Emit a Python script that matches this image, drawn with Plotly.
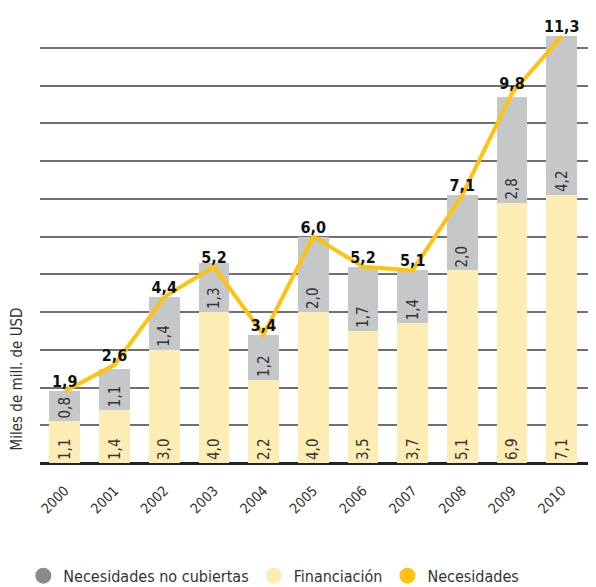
import plotly.graph_objects as go

# Data (miles de mill. de USD)
years = ["2000", "2001", "2002", "2003", "2004", "2005",
         "2006", "2007", "2008", "2009", "2010"]
financiacion = [1.1, 1.4, 3.0, 4.0, 2.2, 4.0, 3.5, 3.7, 5.1, 6.9, 7.1]
no_cubiertas = [0.8, 1.1, 1.4, 1.3, 1.2, 2.0, 1.7, 1.4, 2.0, 2.8, 4.2]
necesidades = [1.9, 2.6, 4.4, 5.2, 3.4, 6.0, 5.2, 5.1, 7.1, 9.8, 11.3]


def fmt(v):
    return f"{v:.1f}".replace(".", ",")


FONT = "DejaVu Sans Condensed, Roboto, sans-serif"
GRAY = "#c6c7c9"
CREAM = "#fdedb5"
GOLD = "#ffc20e"

fig = go.Figure()

fig.add_trace(go.Bar(
    x=years, y=financiacion, name="Financiación",
    marker=dict(color=CREAM, line=dict(width=0)),
    text=[fmt(v) for v in financiacion], textposition="inside",
    insidetextanchor="start", textangle=-90,
    textfont=dict(family=FONT, size=15, color="#333333"),
    showlegend=False, width=0.62,
))
fig.add_trace(go.Bar(
    x=years, y=no_cubiertas, name="Necesidades no cubiertas",
    marker=dict(color=GRAY, line=dict(width=0)),
    text=[fmt(v) for v in no_cubiertas], textposition="inside",
    insidetextanchor="start", textangle=-90,
    textfont=dict(family=FONT, size=15, color="#333333"),
    showlegend=False, width=0.62,
))
fig.add_trace(go.Scatter(
    x=years, y=necesidades, name="Necesidades", mode="lines+text",
    line=dict(color=GOLD, width=4),
    text=[fmt(v) for v in necesidades], textposition="top center",
    textfont=dict(family=FONT, size=16, color="#111111", weight="bold"),
    showlegend=False, cliponaxis=False,
))

# legend entries drawn as circles
for name, col in [("Necesidades no cubiertas", "#8a8b8d"),
                  ("Financiación", CREAM),
                  ("Necesidades", GOLD)]:
    fig.add_trace(go.Scatter(
        x=[None], y=[None], mode="markers", name=name,
        marker=dict(color=col, size=18, symbol="circle"),
    ))

fig.add_annotation(
    text="Miles de mill. de USD", xref="paper", yref="paper",
    x=-0.041, y=0.185, xanchor="center", yanchor="middle",
    textangle=-90, showarrow=False,
    font=dict(family=FONT, size=15, color="#333333"),
)

# page body has an 8px margin, so the figure is sized to fit the window
fig.update_layout(
    width=588, height=579,
    margin=dict(l=32, r=0, t=2, b=124, autoexpand=False),
    barmode="stack",
    plot_bgcolor="white", paper_bgcolor="white",
    font=dict(family=FONT, size=15, color="#333333"),
    xaxis=dict(
        range=[-0.5, 10.69], tickangle=-45, showgrid=False,
        tickfont=dict(family=FONT, size=14, color="#333333"),
        showline=False, ticks="outside", ticklen=13, tickcolor="rgba(0,0,0,0)",
    ),
    yaxis=dict(
        range=[0, 12], dtick=1, showticklabels=False,
        showgrid=True, gridcolor="#707070", gridwidth=1.5,
        zeroline=True, zerolinecolor="#222222", zerolinewidth=2.5,
        showline=False, ticks="",
    ),
    legend=dict(
        orientation="h", x=-0.03, xanchor="left", y=-0.249, yanchor="middle",
        font=dict(family=FONT, size=16, color="#333333"),
        itemwidth=30, tracegroupgap=0, traceorder="normal",
    ),
)

fig.write_html("out.html")
